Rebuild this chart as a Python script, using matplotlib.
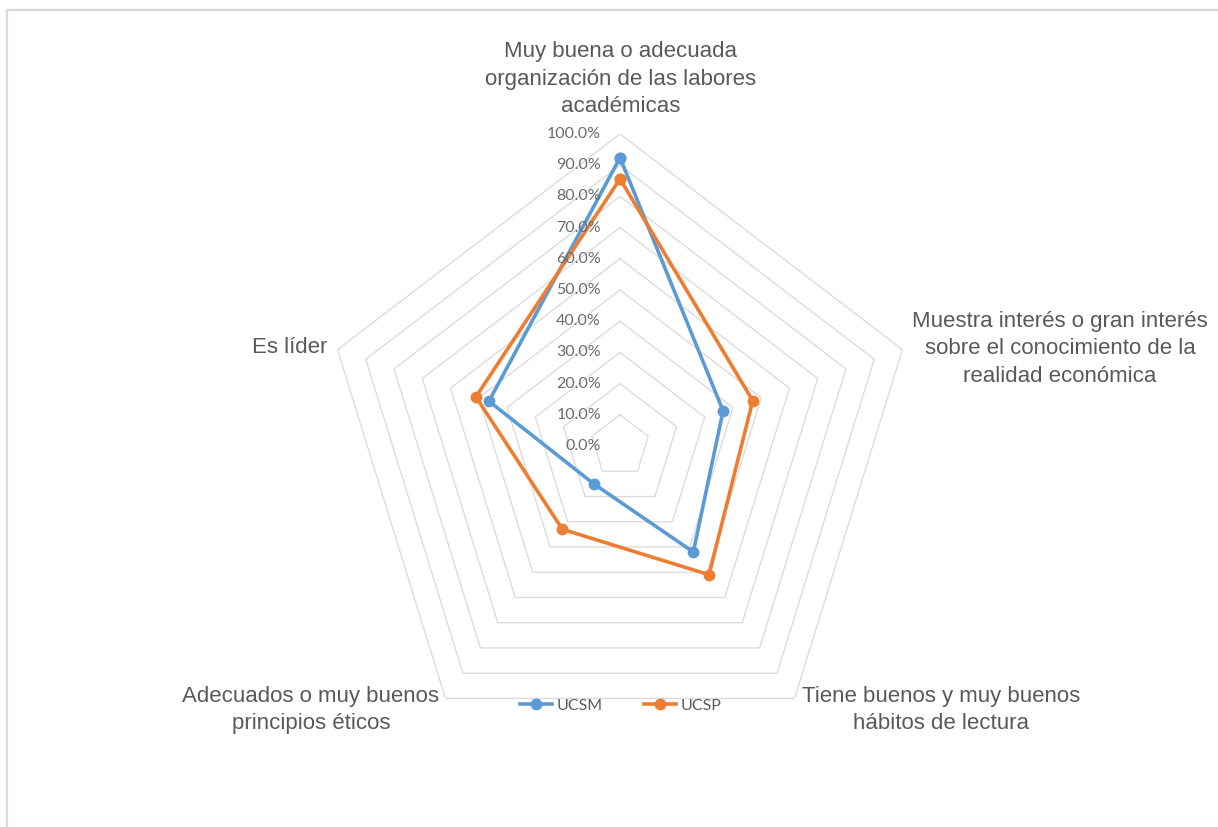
import numpy as np
import matplotlib
matplotlib.use("Agg")
import matplotlib.pyplot as plt
from matplotlib.lines import Line2D
from matplotlib.transforms import offset_copy

categories = [
    "Muy buena o adecuada\norganización de las labores\nacadémicas",
    "Muestra interés o gran interés\nsobre el conocimiento de la\nrealidad económica",
    "Tiene buenos y muy buenos\nhábitos de lectura",
    "Adecuados o muy buenos\nprincipios éticos",
    "Es líder",
]
ucsm = [0.924, 0.365, 0.42, 0.15, 0.464]
ucsp = [0.856, 0.47, 0.51, 0.33, 0.51]
series_names = ["UCSM", "UCSP"]
series_colors = ["#5B9BD5", "#ED7D31"]
levels = [0.0, 0.1, 0.2, 0.3, 0.4, 0.5, 0.6, 0.7, 0.8, 0.9, 1.0]
level_labels = [f"{v*100:.1f}%" for v in levels]

W, H = 1218, 827
fig = plt.figure(figsize=(W / 100, H / 100), dpi=100)
fig.patch.set_facecolor("white")

def fx(px):
    return px / W

def fy(py):
    return 1 - py / H

# chart area border (top and left visible)
fig.add_artist(Line2D([fx(7), fx(1218)], [fy(10), fy(10)], color="#d9d9d9", lw=1.6, transform=fig.transFigure))
fig.add_artist(Line2D([fx(7), fx(7)], [fy(10), fy(827)], color="#d9d9d9", lw=1.6, transform=fig.transFigure))

cx, cy, Rx, Ry = 620, 446, 297, 312
ax = fig.add_axes([fx(cx - Rx), fy(cy + Ry), 2 * Rx / W, 2 * Ry / H], projection="polar")
ax.set_aspect("auto")
ax.set_theta_zero_location("N")
ax.set_theta_direction(-1)
ax.grid(False)
ax.spines["polar"].set_visible(False)
ax.set_xticks([])
ax.set_yticks([])
ax.patch.set_alpha(0)

n = len(categories)
angles = np.linspace(0, 2 * np.pi, n, endpoint=False)
closed_angles = np.concatenate([angles, angles[:1]])

for lv in levels[1:]:
    ax.plot(closed_angles, [lv] * (n + 1), color="#d9d9d9", lw=0.9, zorder=1)

for vals, name, col in zip([ucsm, ucsp], series_names, series_colors):
    v = list(vals) + [vals[0]]
    ax.plot(closed_angles, v, color=col, lw=2.6, marker="o", markersize=7.5,
            label=name, zorder=3, solid_joinstyle="round")

ax.set_ylim(0, 1)

tick_tr = offset_copy(ax.transData, fig=fig, x=-19, y=0, units="dots")
for lv, lab in zip(levels, level_labels):
    ax.text(0, lv, lab, transform=tick_tr, ha="right", va="center",
            fontsize=11.5, color="#6b6b6b", family=["Lato", "DejaVu Sans"])

lab_font = dict(fontsize=16, color="#595959", family=["Liberation Sans", "DejaVu Sans"],
                linespacing=1.42)
fig.text(fx(621), fy(79), categories[0], ha="center", va="center", multialignment="center", **lab_font)
fig.text(fx(1060), fy(349), categories[1], ha="center", va="center", multialignment="center", **lab_font)
fig.text(fx(941), fy(710), categories[2], ha="center", va="center", multialignment="center", **lab_font)
fig.text(fx(311), fy(710), categories[3], ha="center", va="center", multialignment="center", **lab_font)
fig.text(fx(327), fy(347), categories[4], ha="right", va="center", **lab_font)

leg = fig.legend(loc="center", bbox_to_anchor=(fx(621), fy(706)), ncol=2, frameon=False,
                 handlelength=2.0, columnspacing=2.6, handletextpad=0.3,
                 prop={"family": ["Lato", "DejaVu Sans"], "size": 11.5})
for t in leg.get_texts():
    t.set_color("#595959")

fig.savefig("out.png", dpi=100, facecolor="white")
